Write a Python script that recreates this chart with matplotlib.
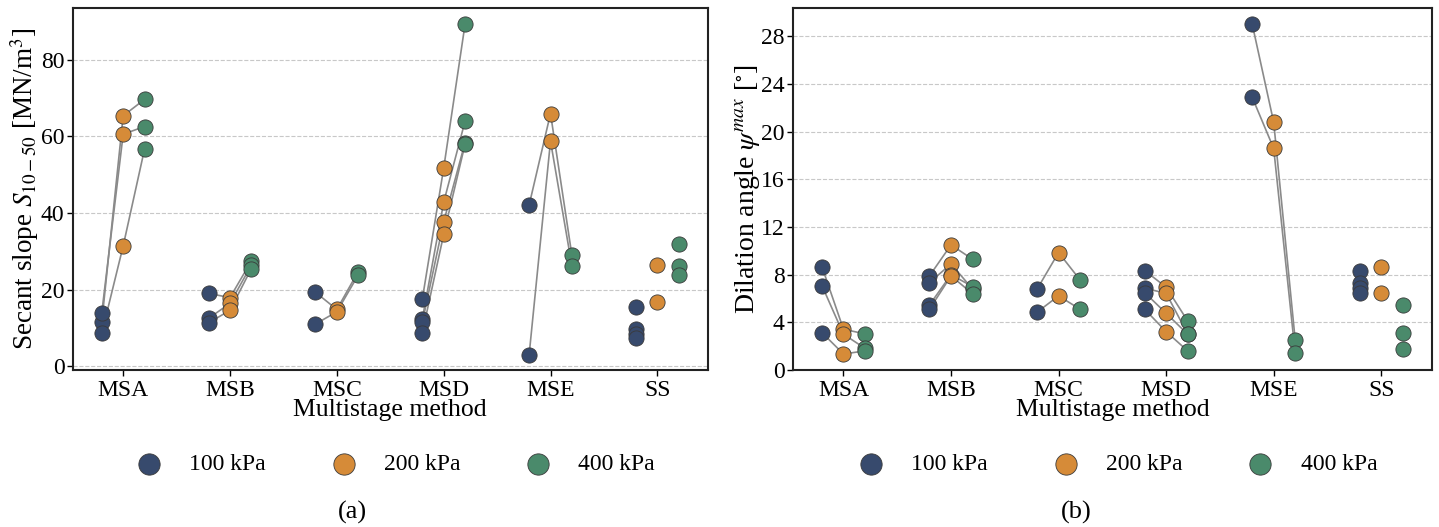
import matplotlib
matplotlib.use("Agg")
import matplotlib.pyplot as plt

plt.rcParams["font.family"] = ["Liberation Serif", "DejaVu Serif"]
plt.rcParams["mathtext.fontset"] = "stix"

methods = ["MSA", "MSB", "MSC", "MSD", "MSE", "SS"]
pressures = ["100 kPa", "200 kPa", "400 kPa"]
colors = ["#374a6d", "#d68b38", "#4a8a6b"]
# SS tests are single stage, no lines between the pressures
linked = [True, True, True, True, True, False]

# secant slope S10-50 [MN/m3], one list per method, same order = same test
slope_100 = [[11.6, 14.0, 8.6], [19.0, 12.5, 11.3], [19.3, 11.0],
             [17.5, 12.3, 11.4, 8.7], [42.1, 3.0], [15.5, 9.8, 8.5, 7.4]]
slope_200 = [[65.4, 60.6, 31.4], [17.9, 16.4, 14.6], [14.8, 14.2],
             [51.7, 42.8, 37.7, 34.4], [66.0, 58.8], [26.4, 16.8]]
slope_400 = [[69.7, 62.6, 56.7], [27.5, 26.4, 25.5], [24.7, 23.8],
             [89.3, 64.0, 58.4, 58.0], [29.0, 26.2], [31.9, 26.1, 23.8]]

# dilation angle psi_max [deg]
psi_100 = [[8.68, 7.09, 3.14], [7.9, 7.34, 5.46, 5.1], [6.78, 4.85],
           [8.35, 6.86, 6.5, 5.1], [29.05, 22.9], [8.35, 7.34, 6.86, 6.44]]
psi_200 = [[3.42, 3.0, 1.34], [10.5, 8.9, 8.0, 7.9], [9.86, 6.22],
           [6.95, 6.44, 4.76, 3.22], [20.8, 18.6], [8.63, 6.44]]
psi_400 = [[3.03, 1.82, 1.6], [9.3, 6.8, 7.0, 6.4], [7.56, 5.1],
           [4.12, 3.03, 3.0, 1.6], [2.52, 1.4], [5.46, 3.14, 1.76]]

offsets = [-0.2, 0.0, 0.2]
FS = 17


def draw_panel(ax, series, ylabel, yticks, ylim, ylabel_size, ylabel_pad):
    for m in range(len(methods)):
        if linked[m]:
            for i in range(len(series[0][m])):
                xs = [m + o for o in offsets]
                ys = [s[m][i] for s in series]
                ax.plot(xs, ys, color="#8a8a8a", lw=1.2, zorder=2)
    for k, s in enumerate(series):
        for m in range(len(methods)):
            ax.scatter([m + offsets[k]] * len(s[m]), s[m], s=120, color=colors[k],
                       edgecolor="#3a3a3a", linewidth=0.6, zorder=3,
                       label=pressures[k] if m == 0 else None)
    ax.set_xticks(range(len(methods)))
    ax.set_xticklabels(methods, fontsize=FS)
    ax.set_yticks(yticks)
    ax.tick_params(axis="y", labelsize=FS, length=4, width=1, pad=2)
    ax.tick_params(axis="x", length=4, width=1, pad=3)
    ax.set_xlim(-0.47, 5.47)
    ax.set_ylim(*ylim)
    ax.grid(axis="y", color="#c8c8c8", ls="--", lw=0.8, zorder=0)
    ax.set_axisbelow(True)
    for sp in ax.spines.values():
        sp.set_linewidth(1.5)
        sp.set_color("#222222")
    ax.set_xlabel("Multistage method", fontsize=FS + 1.5, labelpad=-1)
    ax.set_ylabel(ylabel, fontsize=ylabel_size, labelpad=ylabel_pad)
    ax.legend(loc="center", bbox_to_anchor=(0.5, -0.26), ncol=3, frameon=False,
              fontsize=FS, handlelength=2.0, handletextpad=0.7, columnspacing=2.3,
              markerscale=1.4)


fig = plt.figure(figsize=(14.39, 5.27), dpi=100)
ax1 = fig.add_axes([0.0507, 0.298, 0.441, 0.687])
ax2 = fig.add_axes([0.551, 0.298, 0.444, 0.687])

draw_panel(ax1, [slope_100, slope_200, slope_400],
           r"Secant slope $S_{10-50}$ [MN/m$^3$]", [0, 20, 40, 60, 80], (-1, 93.6),
           FS + 2.5, 0)
draw_panel(ax2, [psi_100, psi_200, psi_400],
           r"Dilation angle $\psi^{max}$ [$^{\circ}$]", list(range(0, 29, 4)), (0, 30.4),
           FS + 3, -0.5)

fig.text(352 / 1439, 1 - 512 / 527, "(a)", ha="center", va="center", fontsize=FS + 2)
fig.text(1076 / 1439, 1 - 512 / 527, "(b)", ha="center", va="center", fontsize=FS + 2)

fig.savefig("out.png", dpi=100)
